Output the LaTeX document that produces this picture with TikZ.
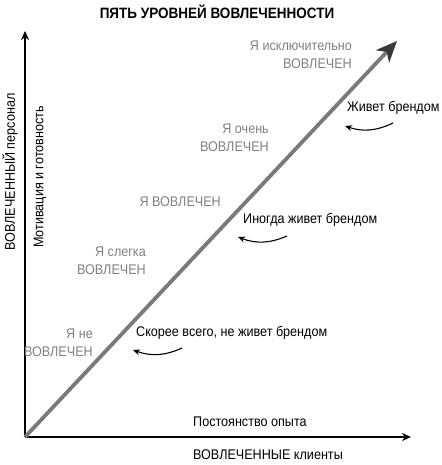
\documentclass[tikz,border=0pt]{standalone}
\usepackage{fontspec}
\setmainfont{Liberation Sans}[FakeStretch=0.9]
\usetikzlibrary{positioning,arrows.meta}
\definecolor{lvlgray}{HTML}{808080}
\definecolor{linegray}{HTML}{7A7A7A}
\definecolor{tipgray}{HTML}{3A3A3A}

\begin{document}
\begin{tikzpicture}[x=1pt, y=-1pt,
  axis/.style={line width=1.6pt, -{Stealth[length=9pt,width=8pt]}},
  growth/.style={line width=3.8pt, draw=linegray, -{Stealth[length=21pt,width=18pt,inset=6pt,color=tipgray]}},
  level/.style={font=\fontsize{14}{18}\selectfont, text=lvlgray, align=right, inner sep=0pt, anchor=east},
  note/.style={font=\fontsize{14}{16}\selectfont, inner sep=0pt},
  bendarrow/.style={line width=1.1pt, -{Stealth[length=7pt,width=6pt]}},
]
\useasboundingbox (0,0) rectangle (441,465);

% ---------- title ----------
\node[font=\bfseries\fontsize{15}{18}\selectfont] (title) at (217,12) {ПЯТЬ УРОВНЕЙ ВОВЛЕЧЕННОСТИ};

% ---------- axes ----------
\coordinate (origin) at (25,437);
\coordinate (ytop) at (25,31);
\coordinate (xend) at (411,437);
\draw[axis] (origin) -- (ytop);
\draw[axis] (origin) -- (xend);
\node[note, rotate=90] (ylabA) at (10,172) {ВОВЛЕЧЕННЫЙ персонал};
\node[note, rotate=90] (ylabB) at (40,177) {Мотивация и готовность};
\node[note, anchor=west] (xlabA) at (193,422) {Постоянство опыта};
\node[note, anchor=west] (xlabB) at (193,455) {ВОВЛЕЧЕННЫЕ клиенты};

% ---------- growth line ----------
\coordinate (peak) at (397,41);
\draw[growth] (origin) -- (peak);

% ---------- five levels (right edge / centre y) ----------
\node[level] (lvlA) at (93,343) {Я не\\ВОВЛЕЧЕН};
\node[level] (lvlB) at (146,261) {Я слегка\\ВОВЛЕЧЕН};
\node[level] (lvlC) at (221,202) {Я ВОВЛЕЧЕН};
\node[level] (lvlD) at (269,138) {Я очень\\ВОВЛЕЧЕН};
\node[level] (lvlE) at (352,55) {Я исключительно\\ВОВЛЕЧЕН};

% ---------- brand notes with curved arrows ----------
\foreach \nm/\txt/\nx/\ny/\ax/\ay/\bx/\by in {%
  A/{Скорее всего, не живет брендом}/136/333/182/348/133/350,
  B/{Иногда живет брендом}/243/220/287/236/238/237,
  C/{Живет брендом}/347/108/393/123/345/126%
} {
  \node[note, anchor=west] (note\nm) at (\nx,\ny) {\txt};
  \coordinate (from\nm) at (\ax,\ay);
  \coordinate (to\nm) at (\bx,\by);
  \draw[bendarrow] (from\nm) to[bend left=22] (to\nm);
}
\end{tikzpicture}
\end{document}
